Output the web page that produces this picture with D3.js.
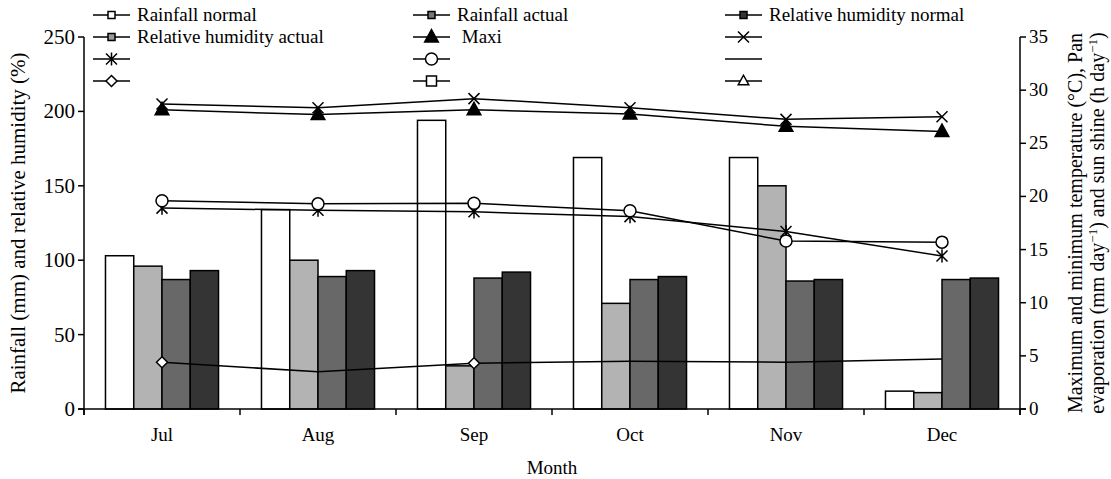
<!DOCTYPE html>
<html>
<head>
<meta charset="utf-8">
<script src="https://cdn.jsdelivr.net/npm/d3@7"></script>
<style>
  body { margin: 0; background: #fff; }
  svg text { font-family: "Liberation Serif", "Times New Roman", serif; fill: #000; }
</style>
</head>
<body>
<svg id="chart" width="1111" height="479"></svg>
<script>
// Months on the x axis
const months = ['Jul', 'Aug', 'Sep', 'Oct', 'Nov', 'Dec'];

// Bars (left axis)
const rainfallNormal = [103, 134, 194, 169, 169, 12];
const rainfallActual = [96, 100, 29, 71, 150, 11];
const rhActual = [87, 89, 88, 87, 86, 87];
const rhNormal = [93, 93, 92, 89, 87, 88];

// Lines (right axis)
const crossLine = [28.7, 28.35, 29.2, 28.35, 27.25, 27.5];
const maxiLine = [28.15, 27.7, 28.15, 27.75, 26.6, 26.1];
const circleLine = [19.6, 19.3, 19.35, 18.65, 15.8, 15.7];
const starLine = [18.9, 18.7, 18.55, 18.1, 16.7, 14.4];
const diamondLine = [4.4, 3.5, 4.3, 4.5, 4.4, 4.7];
const diamondMarked = [true, false, true, false, false, false];

const leftTicks = [0, 50, 100, 150, 200, 250];
const rightTicks = [0, 5, 10, 15, 20, 25, 30, 35];

const svg = d3.select('#chart');
const margin = { left: 84, right: 1020, top: 37, bottom: 409 };
const fs = 19;

const x = d3.scaleBand().domain(months).range([margin.left, margin.right]).padding(0);
const yL = d3.scaleLinear().domain([0, 250]).range([margin.bottom, margin.top]);
const yR = d3.scaleLinear().domain([0, 35]).range([margin.bottom, margin.top]);

const barSeries = [
  { key: 'rn', values: rainfallNormal, fill: '#ffffff' },
  { key: 'ra', values: rainfallActual, fill: '#b3b3b3' },
  { key: 'rha', values: rhActual, fill: '#686868' },
  { key: 'rhn', values: rhNormal, fill: '#343434' }
];
const xSub = d3.scaleBand().domain(barSeries.map(s => s.key))
  .range([0, x.bandwidth()]).paddingInner(0).paddingOuter(0.76);

// Bars
barSeries.forEach(s => {
  svg.append('g').selectAll('rect')
    .data(s.values)
    .enter().append('rect')
    .attr('x', (d, i) => x(months[i]) + xSub(s.key))
    .attr('y', d => yL(d))
    .attr('width', xSub.bandwidth())
    .attr('height', d => yL(0) - yL(d))
    .attr('fill', s.fill)
    .attr('stroke', '#000')
    .attr('stroke-width', 1.5);
});

// Marker path helpers
function markerPath(type, s) {
  const h = s / 2;
  switch (type) {
    case 'cross': return `M${-h},${-h}L${h},${h}M${-h},${h}L${h},${-h}`;
    case 'star': return `M${-h},${-h}L${h},${h}M${-h},${h}L${h},${-h}M0,${-h * 1.2}L0,${h * 1.2}`;
    case 'triangle': return `M0,${-h * 1.15}L${h * 1.05},${h * 0.75}L${-h * 1.05},${h * 0.75}Z`;
    case 'diamond': return `M0,${-h}L${h},0L0,${h}L${-h},0Z`;
    case 'square': return `M${-h},${-h}H${h}V${h}H${-h}Z`;
  }
}

function drawMarker(g, type, cx, cy, fill) {
  if (type === 'none') return;
  if (type === 'circle') {
    g.append('circle').attr('cx', cx).attr('cy', cy).attr('r', 6)
      .attr('fill', fill).attr('stroke', '#000').attr('stroke-width', 1.5);
    return;
  }
  const size = { cross: 11, star: 11, triangle: 13, diamond: 11, square: 8 }[type];
  g.append('path').attr('d', markerPath(type, size))
    .attr('transform', `translate(${cx},${cy})`)
    .attr('fill', fill)
    .attr('stroke', '#000')
    .attr('stroke-width', 1.5);
}

const cx = i => x(months[i]) + x.bandwidth() / 2;
const line = d3.line().x((d, i) => cx(i)).y(d => yR(d));

const lineSeries = [
  { values: diamondLine, marker: 'diamond', fill: '#fff', marked: diamondMarked },
  { values: starLine, marker: 'star', fill: 'none' },
  { values: circleLine, marker: 'circle', fill: '#fff' },
  { values: maxiLine, marker: 'triangle', fill: '#000' },
  { values: crossLine, marker: 'cross', fill: 'none' }
];

lineSeries.forEach(s => {
  const g = svg.append('g');
  g.append('path').attr('d', line(s.values))
    .attr('fill', 'none').attr('stroke', '#000').attr('stroke-width', 1.5);
  s.values.forEach((v, i) => {
    if (s.marked && !s.marked[i]) return;
    drawMarker(g, s.marker, cx(i), yR(v), s.fill);
  });
});

// Axes
const axisG = svg.append('g').attr('stroke', '#000').attr('stroke-width', 1.5);
axisG.append('line').attr('x1', margin.left - 6).attr('x2', margin.right + 6)
  .attr('y1', margin.bottom).attr('y2', margin.bottom);
axisG.append('line').attr('x1', margin.left).attr('x2', margin.left)
  .attr('y1', margin.top).attr('y2', margin.bottom + 6);
axisG.append('line').attr('x1', margin.right).attr('x2', margin.right)
  .attr('y1', margin.top).attr('y2', margin.bottom + 6);

// x ticks at band edges
const edges = months.map(m => x(m)).concat([margin.right]);
axisG.selectAll('.xt').data(edges).enter().append('line')
  .attr('x1', d => d).attr('x2', d => d)
  .attr('y1', margin.bottom).attr('y2', margin.bottom + 6);

svg.append('g').selectAll('text').data(months).enter().append('text')
  .attr('x', d => x(d) + x.bandwidth() / 2)
  .attr('y', 441)
  .attr('text-anchor', 'middle')
  .attr('font-size', fs)
  .text(d => d);

// Left ticks
axisG.selectAll('.lt').data(leftTicks).enter().append('line')
  .attr('x1', margin.left - 6).attr('x2', margin.left)
  .attr('y1', d => yL(d)).attr('y2', d => yL(d));
svg.append('g').selectAll('text').data(leftTicks).enter().append('text')
  .attr('x', margin.left - 9)
  .attr('y', d => yL(d) + 7)
  .attr('text-anchor', 'end')
  .attr('font-size', 21)
  .text(d => d);

// Right ticks
axisG.selectAll('.rt').data(rightTicks).enter().append('line')
  .attr('x1', margin.right).attr('x2', margin.right + 6)
  .attr('y1', d => yR(d)).attr('y2', d => yR(d));
svg.append('g').selectAll('text').data(rightTicks).enter().append('text')
  .attr('x', margin.right + 9)
  .attr('y', d => yR(d) + 6)
  .attr('text-anchor', 'start')
  .attr('font-size', fs)
  .text(d => d);

// Axis titles
const midY = (margin.top + margin.bottom) / 2;
svg.append('text')
  .attr('transform', `translate(25,${midY}) rotate(-90)`)
  .attr('text-anchor', 'middle')
  .attr('font-size', 21)
  .text('Rainfall (mm) and relative humidity (%)');

svg.append('text')
  .attr('transform', `translate(1082,${midY}) rotate(-90)`)
  .attr('text-anchor', 'middle')
  .attr('font-size', 20)
  .text('Maximum and minimum temperature (°C), Pan');

const t2 = svg.append('text')
  .attr('transform', `translate(1104,${midY}) rotate(-90)`)
  .attr('text-anchor', 'middle')
  .attr('font-size', 20);
t2.append('tspan').text('evaporation (mm day');
t2.append('tspan').attr('dy', -7).attr('font-size', 13).text('\u22121');
t2.append('tspan').attr('dy', 7).text(') and sun shine (h day');
t2.append('tspan').attr('dy', -7).attr('font-size', 13).text('\u22121');
t2.append('tspan').attr('dy', 7).text(')');

svg.append('text')
  .attr('x', 552).attr('y', 474)
  .attr('text-anchor', 'middle')
  .attr('font-size', fs)
  .text('Month');

// Legend
const legendCols = [93, 413, 725];
const legendRows = [15, 37, 59, 81];
const legendItems = [
  { label: 'Rainfall normal', marker: 'square', fill: '#ffffff', size: 7 },
  { label: 'Rainfall actual', marker: 'square', fill: '#777777', size: 7 },
  { label: 'Relative humidity normal', marker: 'square', fill: '#343434', size: 7 },
  { label: 'Relative humidity actual', marker: 'square', fill: '#999999', size: 7 },
  { label: ' Maxi', marker: 'triangle', fill: '#000', size: 13 },
  { label: '', marker: 'cross', fill: 'none', size: 11 },
  { label: '', marker: 'star', fill: 'none', size: 11 },
  { label: '', marker: 'circle', fill: '#fff', size: 12 },
  { label: '', marker: 'none', fill: 'none', size: 0 },
  { label: '', marker: 'diamond', fill: '#fff', size: 11 },
  { label: '', marker: 'square', fill: '#fff', size: 10 },
  { label: '', marker: 'triangle', fill: '#fff', size: 10 }
];
const legend = svg.append('g');
legendItems.forEach((it, i) => {
  const lx = legendCols[i % 3];
  const ly = legendRows[Math.floor(i / 3)];
  const g = legend.append('g');
  g.append('line').attr('x1', lx).attr('x2', lx + 37)
    .attr('y1', ly).attr('y2', ly)
    .attr('stroke', '#000').attr('stroke-width', 1.5);
  if (it.marker === 'circle') {
    g.append('circle').attr('cx', lx + 18.5).attr('cy', ly).attr('r', it.size / 2)
      .attr('fill', it.fill).attr('stroke', '#000').attr('stroke-width', 1.5);
  } else if (it.marker !== 'none') {
    g.append('path').attr('d', markerPath(it.marker, it.size))
      .attr('transform', `translate(${lx + 18.5},${ly})`)
      .attr('fill', it.fill).attr('stroke', '#000').attr('stroke-width', 1.5);
  }
  if (it.label) {
    g.append('text').attr('x', lx + 44).attr('y', ly + 6)
      .attr('font-size', fs)
      .style('white-space', 'pre')
      .text(it.label);
  }
});
</script>
</body>
</html>
